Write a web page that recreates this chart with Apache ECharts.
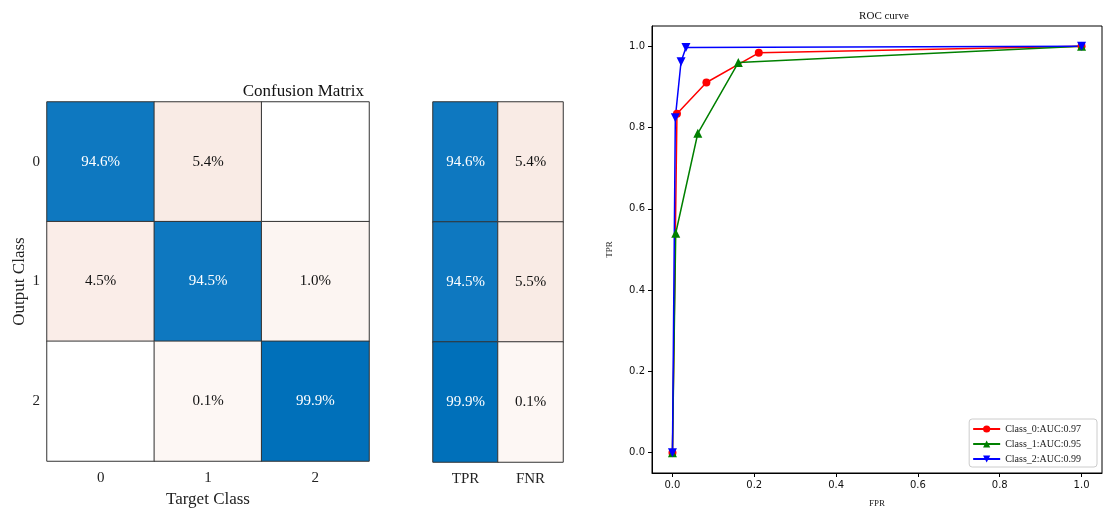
<!DOCTYPE html>
<html>
<head>
<meta charset="utf-8">
<script src="https://cdn.jsdelivr.net/npm/echarts@6/dist/echarts.min.js"></script>
<style>html,body{margin:0;padding:0;background:#fff}#c{width:1103px;height:513px}</style>
</head>
<body>
<div id="c"></div>
<script>
// ---- data ----
const classes = ['0', '1', '2'];
const cmRow0 = [94.6, 5.4, 0];
const cmRow1 = [4.5, 94.5, 1.0];
const cmRow2 = [0, 0.1, 99.9];
const rateNames = ['TPR', 'FNR'];
const tprValues = [94.6, 94.5, 99.9];
const fnrValues = [5.4, 5.5, 0.1];
const rocNames = ['Class_0:AUC:0.97', 'Class_1:AUC:0.95', 'Class_2:AUC:0.99'];
const fpr0 = [0, 0.011, 0.083, 0.211, 1];
const tpr0 = [0, 0.834, 0.911, 0.984, 1];
const fpr1 = [0, 0.008, 0.062, 0.161, 1];
const tpr1 = [0, 0.540, 0.786, 0.960, 1];
const fpr2 = [0, 0.007, 0.021, 0.033, 1];
const tpr2 = [0, 0.824, 0.962, 0.997, 1];
const rocTicks = [0, 0.2, 0.4, 0.6, 0.8, 1.0];

// ---- helpers ----
function cellColor(v) {
  if (v >= 50) {
    const t = Math.min(Math.max((v - 94.5) / 5.4, 0), 1);
    const r = Math.round(14 - 14 * t), g = Math.round(120 - 8 * t), b = Math.round(192 - 6 * t);
    return `rgb(${r},${g},${b})`;
  }
  if (v <= 0) return '#ffffff';
  const t = 0.4 + 0.6 * Math.min(v / 5.5, 1);
  const r = Math.round(255 - 6 * t), g = Math.round(255 - 20 * t), b = Math.round(255 - 26 * t);
  return `rgb(${r},${g},${b})`;
}
function cell(x, y, v) {
  return {
    value: [x, y, v],
    itemStyle: { color: cellColor(v) },
    label: { color: v >= 50 ? '#ffffff' : '#111111' }
  };
}
const cmRows = [cmRow0, cmRow1, cmRow2];
const cmData = [];
cmRows.forEach((row, i) => row.forEach((v, j) => cmData.push(cell(j, i, v))));
const rateData = [];
tprValues.forEach((v, i) => rateData.push(cell(0, i, v)));
fnrValues.forEach((v, i) => rateData.push(cell(1, i, v)));
const zip = (a, b) => a.map((v, i) => [v, b[i]]);

const serif = 'Liberation Serif';
const heatLabel = {
  show: true, fontFamily: serif, fontSize: 15,
  formatter: p => p.value[2] > 0 ? p.value[2].toFixed(1) + '%' : ''
};
const heatItem = { borderColor: '#333', borderWidth: 1 };

const chart = echarts.init(document.getElementById('c'), null, { renderer: 'canvas' });
chart.setOption({
  animation: false,
  backgroundColor: '#ffffff',
  title: [
    { text: 'Confusion Matrix', right: 1103 - 369, top: 78,
      textStyle: { fontFamily: serif, fontSize: 17, fontWeight: 'normal', color: '#111' } },
    { text: 'ROC curve', left: 879, top: 6, textAlign: 'center',
      textStyle: { fontFamily: serif, fontSize: 11, fontWeight: 'normal', color: '#111' } }
  ],
  grid: [
    { left: 47, top: 102, width: 322, height: 360 },
    { left: 433, top: 102, width: 130, height: 360 },
    { left: 652, top: 26, width: 450, height: 447, show: true, borderColor: '#000', borderWidth: 1, backgroundColor: 'transparent' }
  ],
  xAxis: [
    { type: 'category', gridIndex: 0, data: classes, axisLine: { show: false }, axisTick: { show: false },
      axisLabel: { fontFamily: serif, fontSize: 15, color: '#222', margin: 10 },
      name: 'Target Class', nameLocation: 'middle', nameGap: 30,
      nameTextStyle: { fontFamily: serif, fontSize: 17, color: '#222' } },
    { type: 'category', gridIndex: 1, data: rateNames, axisLine: { show: false }, axisTick: { show: false },
      axisLabel: { fontFamily: serif, fontSize: 15, color: '#222', margin: 10 } },
    { type: 'value', gridIndex: 2, min: -0.05, max: 1.05,
      axisLine: { onZero: false, lineStyle: { color: '#000' } },
      axisTick: { show: true, inside: false, length: 4, customValues: rocTicks, lineStyle: { color: '#000' } },
      axisLabel: { customValues: rocTicks, formatter: v => v.toFixed(1), fontFamily: 'DejaVu Sans', fontSize: 10, color: '#111', margin: 7 },
      splitLine: { show: false },
      name: 'FPR', nameLocation: 'middle', nameGap: 26,
      nameTextStyle: { fontFamily: serif, fontSize: 9, color: '#222' } }
  ],
  yAxis: [
    { type: 'category', gridIndex: 0, data: classes, inverse: true, axisLine: { show: false }, axisTick: { show: false },
      axisLabel: { fontFamily: serif, fontSize: 15, color: '#222', margin: 7 },
      name: 'Output Class', nameLocation: 'middle', nameGap: 19, nameRotate: 90,
      nameTextStyle: { fontFamily: serif, fontSize: 17, color: '#222' } },
    { type: 'category', gridIndex: 1, data: classes, inverse: true, axisLine: { show: false }, axisTick: { show: false },
      axisLabel: { show: false } },
    { type: 'value', gridIndex: 2, min: -0.05, max: 1.05,
      axisLine: { show: true, onZero: false, lineStyle: { color: '#000' } },
      axisTick: { show: true, inside: false, length: 4, customValues: rocTicks, lineStyle: { color: '#000' } },
      axisLabel: { customValues: rocTicks, formatter: v => v.toFixed(1), fontFamily: 'DejaVu Sans', fontSize: 10, color: '#111', margin: 7 },
      splitLine: { show: false },
      name: 'TPR', nameLocation: 'middle', nameGap: 38, nameRotate: 90,
      nameTextStyle: { fontFamily: serif, fontSize: 9, color: '#222' } }
  ],
  legend: {
    orient: 'vertical', right: 6, bottom: 46,
    backgroundColor: '#fff', borderColor: '#ccc', borderWidth: 1, borderRadius: 3,
    padding: [5, 16, 3, 3], itemGap: 5, itemWidth: 27, itemHeight: 9,
    textStyle: { fontFamily: serif, fontSize: 10, color: '#222' },
    data: rocNames
  },
  series: [
    { type: 'heatmap', xAxisIndex: 0, yAxisIndex: 0, data: cmData, label: heatLabel, itemStyle: heatItem,
      emphasis: { disabled: true } },
    { type: 'heatmap', xAxisIndex: 1, yAxisIndex: 1, data: rateData, label: heatLabel, itemStyle: heatItem,
      emphasis: { disabled: true } },
    { type: 'line', name: rocNames[0], xAxisIndex: 2, yAxisIndex: 2, data: zip(fpr0, tpr0),
      color: '#ff0000', symbol: 'circle', symbolSize: 8, showAllSymbol: true, lineStyle: { width: 1.5 } },
    { type: 'line', name: rocNames[1], xAxisIndex: 2, yAxisIndex: 2, data: zip(fpr1, tpr1),
      color: '#008000', symbol: 'triangle', symbolSize: 9, showAllSymbol: true, lineStyle: { width: 1.5 } },
    { type: 'line', name: rocNames[2], xAxisIndex: 2, yAxisIndex: 2, data: zip(fpr2, tpr2),
      color: '#0000ff', symbol: 'triangle', symbolRotate: 180, symbolSize: 9, showAllSymbol: true, lineStyle: { width: 1.5 } }
  ]
});
</script>
</body>
</html>
